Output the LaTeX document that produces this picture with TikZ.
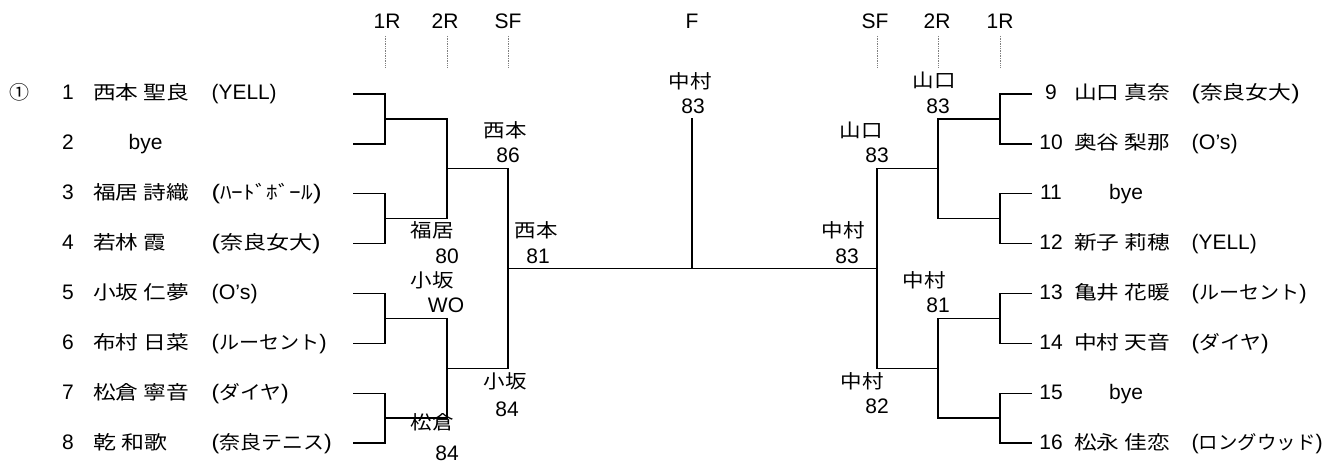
\documentclass[tikz,border=0pt]{standalone}
\usepackage{fontspec}
\usepackage{graphicx}
\setmainfont{Liberation Sans}
\newfontfamily\jpfam{Noto Sans CJK JP}
\newcommand\jpf{\jpfam\fontsize{19}{23}\selectfont}
\newcommand\fitw[2]{\resizebox{#1pt}{\height}{#2}}
\begin{document}
\begin{tikzpicture}[x=1pt,y=-1pt,
  bk/.style={line width=1.3pt,black},
  rd/.style={densely dotted,gray,line width=0.7pt},
  tx/.style={inner sep=0pt,font=\fontsize{21}{25}\selectfont},
  jt/.style={inner sep=0pt,font=\jpf},
  num/.style={tx,anchor=base},
  nm/.style={jt,anchor=base west},
  tm/.style={tx,anchor=base west}]
\useasboundingbox (0,0) rectangle (1328,462);
% header
\foreach \n/\t/\x/\lx in {h1/1R/385/387,h2/2R/447/445,h3/SF/508/508,h5/SF/877/875,h6/2R/938/937,h7/1R/1000/1000}{
  \node[tx] (\n) at (\lx,21) {\t};
  \coordinate (\n a) at (\x,36);
  \coordinate (\n b) at (\x,68);
  \draw[rd] (\n a) -- (\n b);
}
\node[tx] (h4) at (692,21) {F};
% left players
\node[jt,anchor=base] (seed) at (20,100) {\fitw{20}{①}};
\node[num] (n1) at (68,100) {1};
\node[nm] (a1) at (93,100) {\fitw{96}{西本 聖良}};
\node[tm] (t1) at (211.5,100) {\fitw{65}{(YELL)}};
\node[num] (n2) at (68,149.9) {2};
\node[tm] (a2) at (128.5,149.9) {bye};
\node[num] (n3) at (68,199.7) {3};
\node[nm] (a3) at (93,199.7) {\fitw{96}{福居 詩織}};
\node[tm] (t3) at (211.5,199.7) {\fitw{110}{({\jpf ﾊｰﾄﾞﾎﾞｰﾙ})}};
\node[num] (n4) at (68,249.6) {4};
\node[nm] (a4) at (93,249.6) {\fitw{73}{若林 霞}};
\node[tm] (t4) at (211.5,249.6) {\fitw{109}{({\jpf 奈良女大})}};
\node[num] (n5) at (68,299.4) {5};
\node[nm] (a5) at (93,299.4) {\fitw{96}{小坂 仁夢}};
\node[tm] (t5) at (211.5,299.4) {\fitw{46}{(O’s)}};
\node[num] (n6) at (68,349.3) {6};
\node[nm] (a6) at (93,349.3) {\fitw{96}{布村 日菜}};
\node[tm] (t6) at (211.5,349.3) {\fitw{115}{({\jpf ルーセント})}};
\node[num] (n7) at (68,399.2) {7};
\node[nm] (a7) at (93,399.2) {\fitw{96}{松倉 寧音}};
\node[tm] (t7) at (211.5,399.2) {\fitw{77}{({\jpf ダイヤ})}};
\node[num] (n8) at (68,449) {8};
\node[nm] (a8) at (93,449) {\fitw{74}{乾 和歌}};
\node[tm] (t8) at (211.5,449) {\fitw{120}{({\jpf 奈良テニス})}};
% right players
\node[num] (n9) at (1051,100) {9};
\node[nm] (a9) at (1074,100) {\fitw{96}{山口 真奈}};
\node[tm] (t9) at (1191.5,100) {\fitw{108}{({\jpf 奈良女大})}};
\node[num] (n10) at (1051,149.9) {10};
\node[nm] (a10) at (1074,149.9) {\fitw{96}{奥谷 梨那}};
\node[tm] (t10) at (1191.5,149.9) {\fitw{46}{(O’s)}};
\node[num] (n11) at (1051,199.7) {11};
\node[tm] (a11) at (1109,199.7) {bye};
\node[num] (n12) at (1051,249.6) {12};
\node[nm] (a12) at (1074,249.6) {\fitw{96}{新子 莉穂}};
\node[tm] (t12) at (1191.5,249.6) {\fitw{65}{(YELL)}};
\node[num] (n13) at (1051,299.4) {13};
\node[nm] (a13) at (1074,299.4) {\fitw{96}{亀井 花暖}};
\node[tm] (t13) at (1191.5,299.4) {\fitw{115}{({\jpf ルーセント})}};
\node[num] (n14) at (1051,349.3) {14};
\node[nm] (a14) at (1074,349.3) {\fitw{96}{中村 天音}};
\node[tm] (t14) at (1191.5,349.3) {\fitw{77}{({\jpf ダイヤ})}};
\node[num] (n15) at (1051,399.2) {15};
\node[tm] (a15) at (1109,399.2) {bye};
\node[num] (n16) at (1051,449) {16};
\node[nm] (a16) at (1074,449) {\fitw{96}{松永 佳恋}};
\node[tm] (t16) at (1191.5,449) {\fitw{131}{({\jpf ロングウッド})}};
% bracket coordinates
\foreach \i/\y in {1/94,2/143.9,3/193.7,4/243.6,5/293.4,6/343.3,7/393.2,8/443}{
  \coordinate (L\i) at (353,\y);
}
\foreach \i/\y in {9/94,10/143.9,11/193.7,12/243.6,13/293.4,14/343.3,15/393.2,16/443}{
  \coordinate (R\i) at (1032,\y);
}
\coordinate (LM1) at (385,118.95);
\coordinate (LM2) at (385,218.65);
\coordinate (LM3) at (385,318.35);
\coordinate (LM4) at (385,418.1);
\coordinate (LQ1) at (447,168.8);
\coordinate (LQ2) at (447,368.2);
\coordinate (LS) at (508,268.5);
\coordinate (RM1) at (1000,118.95);
\coordinate (RM2) at (1000,218.65);
\coordinate (RM3) at (1000,318.35);
\coordinate (RM4) at (1000,418.1);
\coordinate (RQ1) at (938,168.8);
\coordinate (RQ2) at (938,368.2);
\coordinate (RS) at (877,268.5);
\coordinate (FC) at (692,268.5);
\coordinate (FT) at (692,118);
% left brackets
\draw[bk] (L1) -| (LM1) |- (L2);
\draw[bk] (L3) -| (LM2) |- (L4);
\draw[bk] (L5) -| (LM3) |- (L6);
\draw[bk] (L7) -| (LM4) |- (L8);
\draw[bk] (LM1) -| (LQ1) |- (LM2);
\draw[bk] (LM3) -| (LQ2) |- (LM4);
\draw[bk] (LQ1) -| (LS) |- (LQ2);
% right brackets
\draw[bk] (R9) -| (RM1) |- (R10);
\draw[bk] (R11) -| (RM2) |- (R12);
\draw[bk] (R13) -| (RM3) |- (R14);
\draw[bk] (R15) -| (RM4) |- (R16);
\draw[bk] (RM1) -| (RQ1) |- (RM2);
\draw[bk] (RM3) -| (RQ2) |- (RM4);
\draw[bk] (RQ1) -| (RS) |- (RQ2);
% final
\draw[bk] (LS) -- (RS);
\draw[bk] (FC) -- (FT);
% score labels
\node[jt] (w1) at (432,230) {\fitw{43}{福居}};  \node[tx] (s1) at (447,256) {80};
\node[jt] (w2) at (432,280) {\fitw{43}{小坂}};  \node[tx] (s2) at (446,305) {WO};
\node[jt] (w3) at (432,422) {\fitw{43}{松倉}};  \node[tx] (s3) at (447,453) {84};
\node[jt] (w4) at (505,130) {\fitw{43}{西本}};  \node[tx] (s4) at (508,155) {86};
\node[jt] (w5) at (505,381) {\fitw{43}{小坂}};  \node[tx] (s5) at (507,409) {84};
\node[jt] (w6) at (536,230) {\fitw{43}{西本}};  \node[tx] (s6) at (538,256) {81};
\node[jt] (w7) at (690,81) {\fitw{43}{中村}};   \node[tx] (s7) at (693,106) {83};
\node[jt] (w8) at (861,130) {\fitw{43}{山口}};  \node[tx] (s8) at (877,155) {83};
\node[jt] (w9) at (843,230) {\fitw{43}{中村}};  \node[tx] (s9) at (847,256) {83};
\node[jt] (w10) at (862,381) {\fitw{43}{中村}}; \node[tx] (s10) at (877,406) {82};
\node[jt] (w11) at (934,80) {\fitw{43}{山口}};  \node[tx] (s11) at (938,106) {83};
\node[jt] (w12) at (924,280) {\fitw{43}{中村}}; \node[tx] (s12) at (938,305) {81};
\end{tikzpicture}
\end{document}
